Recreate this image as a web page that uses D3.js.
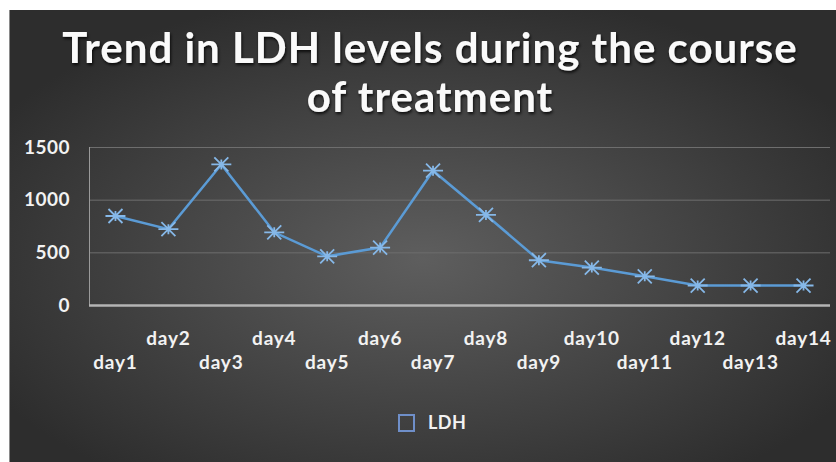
<!DOCTYPE html>
<html>
<head>
<meta charset="utf-8">
<script src="https://cdn.jsdelivr.net/npm/d3@7"></script>
<style>
  body { margin: 0; background: #fff; }
  svg { display: block; }
  text { font-family: Lato, "Open Sans", sans-serif; font-weight: bold; }
</style>
</head>
<body>
<div id="chart"></div>
<script>
var days = ["day1","day2","day3","day4","day5","day6","day7","day8","day9","day10","day11","day12","day13","day14"];
var ldh = [845, 720, 1335, 690, 462, 545, 1275, 855, 425, 355, 272, 185, 185, 185];
var yTicks = [0, 500, 1000, 1500];
var titleLines = ["Trend in LDH levels during the course", "of treatment"];
var seriesName = "LDH";

var W = 836, H = 462;
var margin = {top: 147, right: 6, bottom: 157, left: 89};

var svg = d3.select("#chart").append("svg")
    .attr("width", W)
    .attr("height", H);

var defs = svg.append("defs");
var grad = defs.append("radialGradient")
    .attr("id", "bg")
    .attr("cx", "50%").attr("cy", "55%").attr("r", "60%");
grad.append("stop").attr("offset", "0%").attr("stop-color", "#5e5e5e");
grad.append("stop").attr("offset", "100%").attr("stop-color", "#2d2d2d");

var shadow = defs.append("filter").attr("id", "shadow")
    .attr("x", "-10%").attr("y", "-30%").attr("width", "120%").attr("height", "160%");
shadow.append("feDropShadow")
    .attr("dx", 1).attr("dy", 2).attr("stdDeviation", 1.5)
    .attr("flood-color", "#000").attr("flood-opacity", 0.8);

// panel
svg.append("rect")
    .attr("x", 9).attr("y", 10)
    .attr("width", W - 9).attr("height", H - 10)
    .attr("fill", "url(#bg)");
svg.append("line")
    .attr("x1", 9.5).attr("x2", 9.5).attr("y1", 10).attr("y2", H)
    .attr("stroke", "#8a8a8a").attr("stroke-width", 1);

// title
svg.append("g")
    .attr("filter", "url(#shadow)")
  .selectAll("text")
  .data(titleLines)
  .enter().append("text")
    .attr("x", 430)
    .attr("y", function(d, i) { return 63 + i * 49; })
    .attr("text-anchor", "middle")
    .attr("fill", "#fafafa")
    .style("font-size", "42px")
    .style("letter-spacing", "1px")
    .text(function(d) { return d; });

var x = d3.scaleBand()
    .domain(days)
    .range([margin.left, W - margin.right]);

var y = d3.scaleLinear()
    .domain([0, 1500])
    .range([H - margin.bottom, margin.top]);

// gridlines
svg.append("g")
  .selectAll("line")
  .data(yTicks.filter(function(d) { return d > 0; }))
  .enter().append("line")
    .attr("x1", margin.left)
    .attr("x2", W - margin.right)
    .attr("y1", function(d) { return y(d) + 0.5; })
    .attr("y2", function(d) { return y(d) + 0.5; })
    .attr("stroke", "#6e6e6e")
    .attr("stroke-width", 1);

// y axis line
svg.append("line")
    .attr("x1", margin.left + 0.5).attr("x2", margin.left + 0.5)
    .attr("y1", y(1500)).attr("y2", y(0))
    .attr("stroke", "#9a9a9a");

// y tick labels
svg.append("g")
  .selectAll("text")
  .data(yTicks)
  .enter().append("text")
    .attr("x", 70)
    .attr("y", function(d) { return y(d); })
    .attr("dy", "0.35em")
    .attr("text-anchor", "end")
    .attr("fill", "#f2f2f2")
    .style("font-size", "19px")
    .style("letter-spacing", "0.5px")
    .text(function(d) { return d; });

// x axis line
svg.append("line")
    .attr("x1", margin.left).attr("x2", W - margin.right)
    .attr("y1", y(0) + 0.5).attr("y2", y(0) + 0.5)
    .attr("stroke", "#b4b4b4")
    .attr("stroke-width", 2.5);

// x labels, staggered
svg.append("g")
  .selectAll("text")
  .data(days)
  .enter().append("text")
    .attr("x", function(d) { return x(d) + x.bandwidth() / 2; })
    .attr("y", function(d, i) { return i % 2 === 0 ? 362 : 338; })
    .attr("dy", "0.35em")
    .attr("text-anchor", "middle")
    .attr("fill", "#f2f2f2")
    .style("font-size", "19px")
    .style("letter-spacing", "0.8px")
    .text(function(d) { return d; });

// line
var line = d3.line()
    .x(function(d, i) { return x(days[i]) + x.bandwidth() / 2; })
    .y(function(d) { return y(d); });

svg.append("path")
    .datum(ldh)
    .attr("d", line)
    .attr("fill", "none")
    .attr("stroke", "#5b9bd5")
    .attr("stroke-width", 2.5);

// star markers
var star = "M-10,0L10,0M-7,-7L7,7M-7,7L7,-7M0,-5L0,5";
svg.append("g")
  .selectAll("path")
  .data(ldh)
  .enter().append("path")
    .attr("transform", function(d, i) {
      return "translate(" + (x(days[i]) + x.bandwidth() / 2) + "," + y(d) + ")";
    })
    .attr("d", star)
    .attr("fill", "none")
    .attr("stroke", "#86b8e8")
    .attr("stroke-width", 1.8);

// legend
var legend = svg.append("g").attr("transform", "translate(399,415)");
legend.append("rect")
    .attr("width", 15).attr("height", 16)
    .attr("fill", "none")
    .attr("stroke", "#6f8fc9")
    .attr("stroke-width", 2);
legend.append("text")
    .attr("x", 29).attr("y", 8)
    .attr("dy", "0.35em")
    .attr("fill", "#f2f2f2")
    .style("font-size", "18px")
    .style("letter-spacing", "0.5px")
    .text(seriesName);
</script>
</body>
</html>
